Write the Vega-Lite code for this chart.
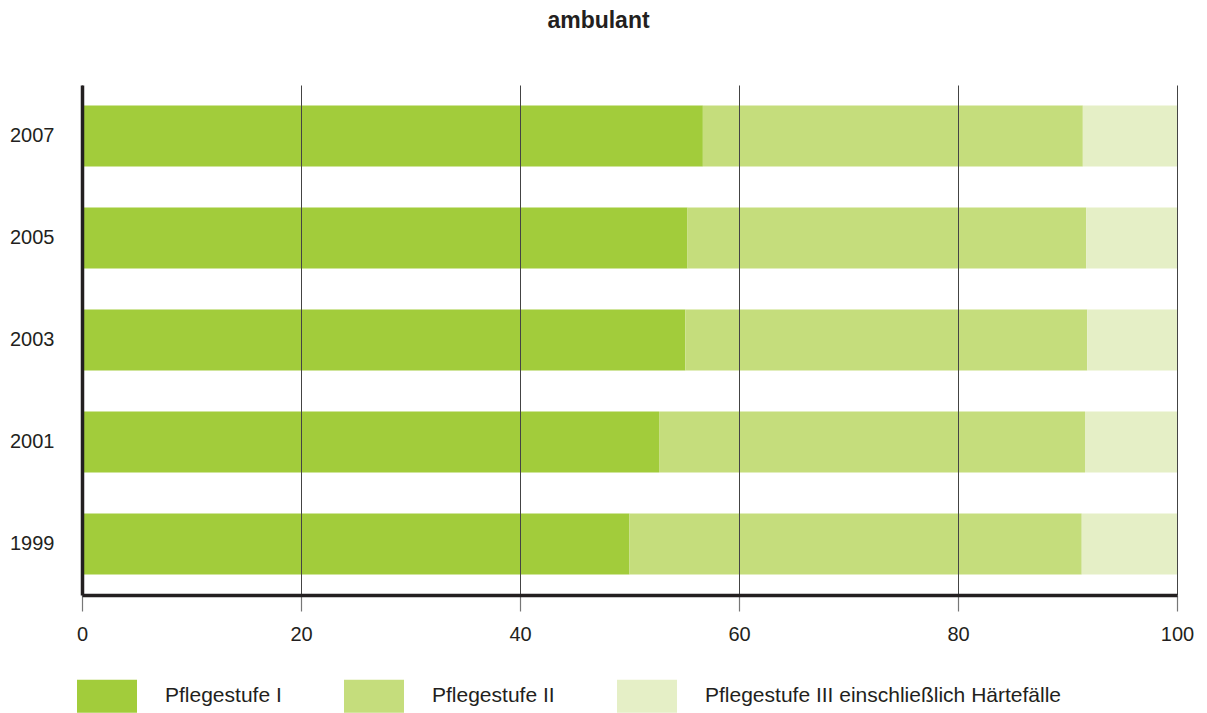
{
  "$schema": "https://vega.github.io/schema/vega-lite/v6.json",
  "width": 1095,
  "height": 510,
  "autosize": {"type": "none"},
  "padding": {"left": 82, "top": 85, "right": 30, "bottom": 118},
  "background": "white",
  "title": {
    "text": "ambulant",
    "font": "Liberation Sans",
    "fontSize": 23,
    "fontWeight": "bold",
    "color": "#231f20",
    "anchor": "middle",
    "dx": -31,
    "offset": 52
  },
  "data": {
    "values": [
      {"Jahr": "2007", "Stufe": "Pflegestufe I", "idx": 1, "Anteil": 56.7},
      {"Jahr": "2007", "Stufe": "Pflegestufe II", "idx": 2, "Anteil": 34.7},
      {"Jahr": "2007", "Stufe": "Pflegestufe III einschließlich Härtefälle", "idx": 3, "Anteil": 8.6},
      {"Jahr": "2005", "Stufe": "Pflegestufe I", "idx": 1, "Anteil": 55.3},
      {"Jahr": "2005", "Stufe": "Pflegestufe II", "idx": 2, "Anteil": 36.4},
      {"Jahr": "2005", "Stufe": "Pflegestufe III einschließlich Härtefälle", "idx": 3, "Anteil": 8.3},
      {"Jahr": "2003", "Stufe": "Pflegestufe I", "idx": 1, "Anteil": 55.1},
      {"Jahr": "2003", "Stufe": "Pflegestufe II", "idx": 2, "Anteil": 36.7},
      {"Jahr": "2003", "Stufe": "Pflegestufe III einschließlich Härtefälle", "idx": 3, "Anteil": 8.2},
      {"Jahr": "2001", "Stufe": "Pflegestufe I", "idx": 1, "Anteil": 52.7},
      {"Jahr": "2001", "Stufe": "Pflegestufe II", "idx": 2, "Anteil": 38.9},
      {"Jahr": "2001", "Stufe": "Pflegestufe III einschließlich Härtefälle", "idx": 3, "Anteil": 8.4},
      {"Jahr": "1999", "Stufe": "Pflegestufe I", "idx": 1, "Anteil": 50.0},
      {"Jahr": "1999", "Stufe": "Pflegestufe II", "idx": 2, "Anteil": 41.3},
      {"Jahr": "1999", "Stufe": "Pflegestufe III einschließlich Härtefälle", "idx": 3, "Anteil": 8.7}
    ]
  },
  "mark": {"type": "bar"},
  "encoding": {
    "y": {
      "field": "Jahr",
      "type": "nominal",
      "sort": "descending",
      "scale": {"paddingInner": 0.4, "paddingOuter": 0.2},
      "axis": {
        "title": null,
        "ticks": false,
        "grid": false,
        "domainColor": "#231f20",
        "domainWidth": 3.5,
        "labelFont": "Liberation Sans",
        "labelFontSize": 20,
        "labelColor": "#231f20",
        "labelPadding": 28,
        "zindex": 1
      }
    },
    "x": {
      "field": "Anteil",
      "type": "quantitative",
      "stack": "zero",
      "scale": {"domain": [0, 100], "nice": false},
      "axis": {
        "title": null,
        "values": [0, 20, 40, 60, 80, 100],
        "grid": true,
        "gridColor": "#444444",
        "gridWidth": 1,
        "domainColor": "#231f20",
        "domainWidth": 3.5,
        "tickColor": "#777777",
        "tickWidth": 1.2,
        "tickSize": 16,
        "labelFont": "Liberation Sans",
        "labelFontSize": 20,
        "labelColor": "#231f20",
        "labelPadding": 13,
        "labelFlush": false,
        "zindex": 1
      }
    },
    "color": {
      "field": "Stufe",
      "type": "nominal",
      "scale": {
        "domain": ["Pflegestufe I", "Pflegestufe II", "Pflegestufe III einschließlich Härtefälle"],
        "range": ["#a2cc3b", "#c5dd7c", "#e5efc6"]
      },
      "legend": {
        "title": null,
        "orient": "none",
        "direction": "horizontal",
        "legendX": -5,
        "legendY": 581,
        "symbolType": "M-1,-0.55H1V0.55H-1Z",
        "symbolSize": 3600,
        "symbolStrokeWidth": 0,
        "symbolOpacity": 1,
        "labelFont": "Liberation Sans",
        "labelFontSize": 21,
        "labelColor": "#231f20",
        "labelLimit": 500,
        "labelOffset": 28,
        "columnPadding": 62
      }
    },
    "order": {"field": "idx", "type": "quantitative"}
  },
  "config": {"view": {"stroke": null}}
}
